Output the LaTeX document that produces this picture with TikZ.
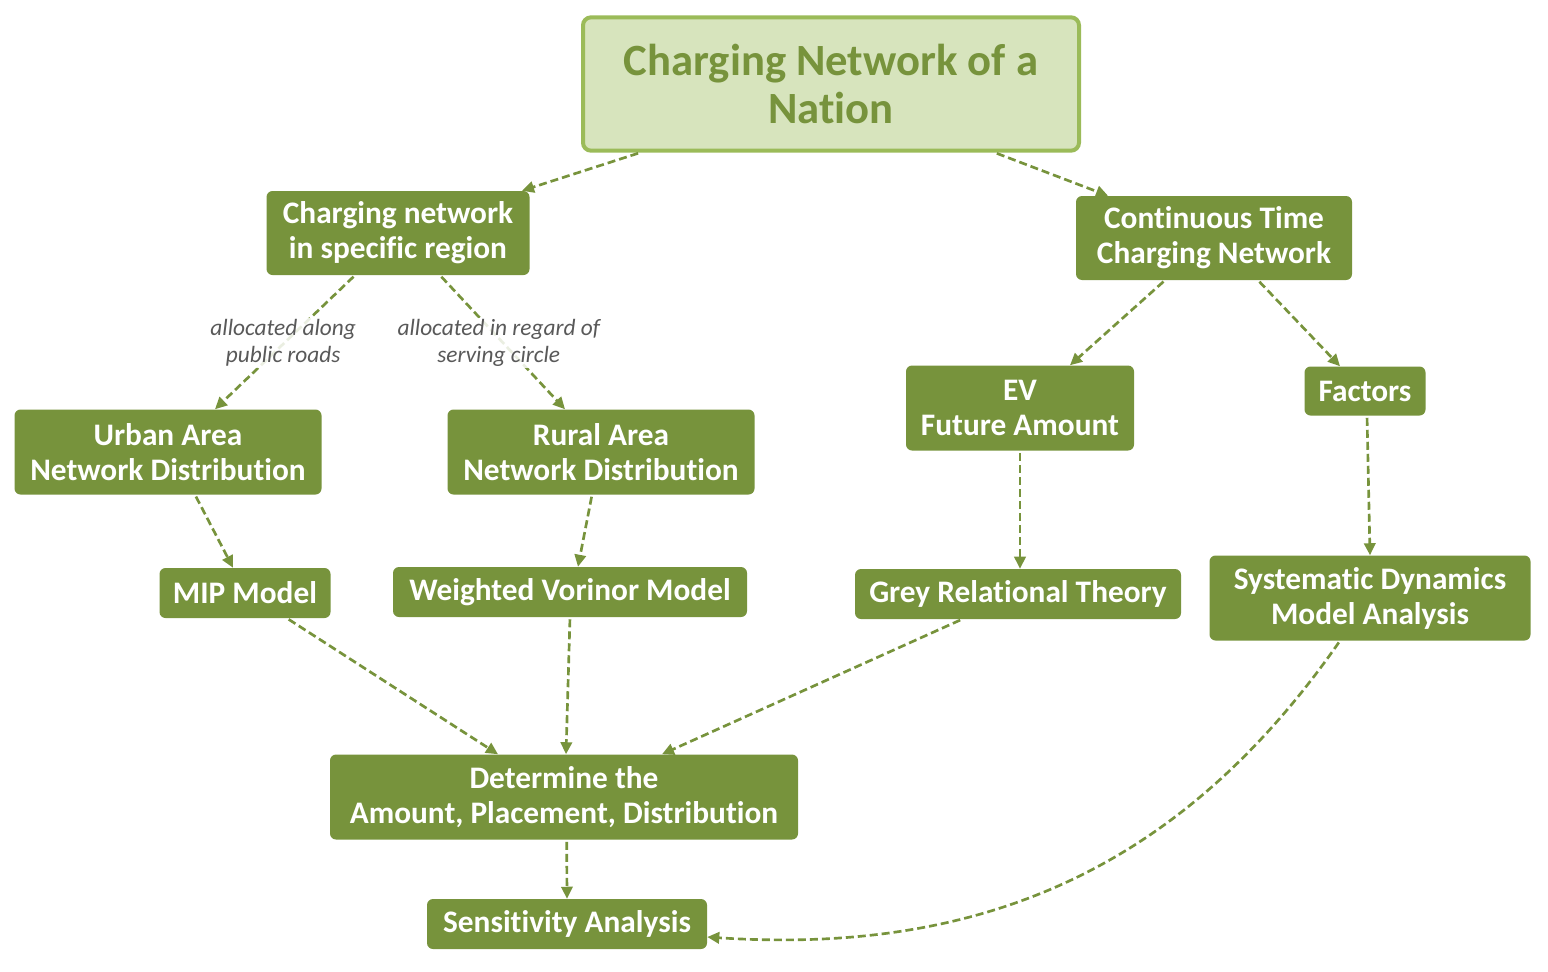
\documentclass[tikz,border=0pt]{standalone}
\usepackage{fontspec}
\setmainfont{Carlito}[Ligatures={NoCommon}]
\usetikzlibrary{arrows.meta,calc}
\definecolor{dkgreen}{HTML}{77933C}
\definecolor{ltgreen}{HTML}{D7E4BD}
\definecolor{mdgreen}{HTML}{9BBB59}
\definecolor{lblgray}{HTML}{595959}
\begin{document}
\begin{tikzpicture}[x=0.75pt,y=-0.75pt,
  box/.style={draw=none,fill=dkgreen,rounded corners=4.5pt,inner sep=0pt,align=center,
    text=white,font=\bfseries\fontsize{23.5}{26.25}\selectfont},
  titlebox/.style={draw=mdgreen,line width=3pt,fill=ltgreen,rounded corners=6pt,inner sep=0pt,
    align=center,text=dkgreen,font=\bfseries\fontsize{33.5}{36}\selectfont,
    minimum width=372pt,minimum height=100pt},
  conn/.style={draw=dkgreen,line width=2pt,dash pattern=on 6pt off 3pt,
    -{Triangle[length=9pt,width=8.5pt]},shorten <=1.5pt},
  lbl/.style={font=\itshape\fontsize{17.5}{20.25}\selectfont,text=lblgray,align=center,
    fill=white,fill opacity=0.85,text opacity=1,inner sep=1pt}]
\useasboundingbox (0,0) rectangle (1548,971);
\node[titlebox] (title) at (831,84) {Charging Network of a\\Nation};
\node[box,minimum width=197.25pt,minimum height=63pt] (cnr) at (398,233) {Charging network\\in specific region};
\node[box,minimum width=207pt,minimum height=63pt] (ctc) at (1214,238) {Continuous Time\\Charging Network};
\node[box,minimum width=230.25pt,minimum height=63.75pt] (urban) at (168,452) {Urban Area\\Network Distribution};
\node[box,minimum width=230.25pt,minimum height=63.75pt] (rural) at (601,452) {Rural Area\\Network Distribution};
\node[box,minimum width=171pt,minimum height=63.75pt] (ev) at (1020,408) {EV\\Future Amount};
\node[box,minimum width=90.75pt,minimum height=36.75pt] (fac) at (1365,391) {Factors};
\node[box,minimum width=128.25pt,minimum height=37.5pt] (mip) at (245,593) {MIP Model};
\node[box,minimum width=265.5pt,minimum height=37.5pt] (wvm) at (570,592) {Weighted Vorinor Model};
\node[box,minimum width=244.5pt,minimum height=37.5pt] (grt) at (1018,594) {Grey Relational Theory};
\node[box,minimum width=240.75pt,minimum height=63.75pt] (sdm) at (1370,598) {Systematic Dynamics\\Model Analysis};
\node[box,minimum width=351pt,minimum height=63.75pt] (det) at (564,797) {Determine the\\Amount, Placement, Distribution};
\node[box,minimum width=210pt,minimum height=37.5pt] (sen) at (567,924) {Sensitivity Analysis};

\draw[conn] ([xshift=-143.25pt]title.south) -- ([xshift=93pt]cnr.north);
\draw[conn] ([xshift=123pt]title.south) -- ([xshift=-79.5pt]ctc.north);
\draw[conn] ([xshift=-32.25pt]cnr.south) -- node[lbl,pos=0.47,xshift=-4.5pt,yshift=-3.5pt]{allocated along\\public roads} ([xshift=35.25pt]urban.north);
\draw[conn] ([xshift=31.5pt]cnr.south) -- node[lbl,pos=0.47,yshift=-3.5pt]{allocated in regard of\\serving circle} ([xshift=-27pt]rural.north);
\draw[conn] ([xshift=-36.75pt]ctc.south) -- ([xshift=37.5pt]ev.north);
\draw[conn] ([xshift=33pt]ctc.south) -- ([xshift=-18.75pt]fac.north);
\draw[conn] ([xshift=20.25pt]urban.south) -- ([xshift=-9pt]mip.north);
\draw[conn] ([xshift=-6.75pt]rural.south) -- ([xshift=6pt]wvm.north);
\draw[conn] (ev.south) -- ([xshift=1.5pt]grt.north);
\draw[conn] ([xshift=1.5pt]fac.south) -- ([xshift=0pt]sdm.north);
\draw[conn] ([xshift=31.5pt]mip.south) -- ([xshift=-49.5pt]det.north);
\draw[conn] (wvm.south) -- ([xshift=1.5pt]det.north);
\draw[conn] ([xshift=-42pt]grt.south) -- ([xshift=73.5pt]det.north);
\draw[conn] ([xshift=2pt]det.south) -- ([xshift=0pt]sen.north);
\draw[conn] ([xshift=-22.5pt]sdm.south) .. controls (1180,870) and (980,955) .. ([yshift=-9.75pt]sen.east);
\end{tikzpicture}
\end{document}
